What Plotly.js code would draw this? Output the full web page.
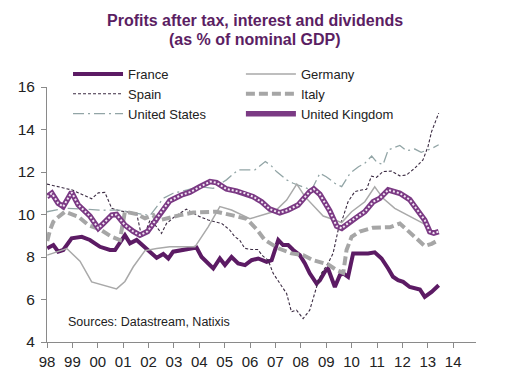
<!DOCTYPE html>
<html>
<head>
<meta charset="utf-8">
<script src="https://cdn.plot.ly/plotly-3.0.1.min.js"></script>
<style>html,body{margin:0;padding:0;background:#fff;}#chart{width:526px;height:390px;}</style>
</head>
<body>
<div id="chart"></div>
<script>
// ---- Data (x in decimal years) ----
const yearTicks = [1998,1999,2000,2001,2002,2003,2004,2005,2006,2007,2008,2009,2010,2011,2012,2013,2014];
const yearLabels = ['98','99','00','01','02','03','04','05','06','07','08','09','10','11','12','13','14'];

const franceX = [1998.01,1998.25,1998.44,1998.64,1998.97,1999.37,1999.69,2000.09,2000.48,2000.68,2001.07,2001.27,2001.53,2001.93,2002.32,2002.58,2002.78,2002.97,2003.24,2003.76,2003.89,2004.09,2004.35,2004.55,2004.81,2005.01,2005.27,2005.53,2005.80,2006.06,2006.32,2006.65,2006.85,2007.11,2007.30,2007.50,2007.70,2007.96,2008.16,2008.35,2008.62,2008.75,2008.94,2009.07,2009.34,2009.54,2009.67,2009.86,2010.06,2010.46,2010.65,2010.91,2011.18,2011.44,2011.63,2011.83,2012.03,2012.29,2012.56,2012.69,2012.88,2013.15,2013.43];
const franceY = [8.41,8.56,8.25,8.33,8.88,8.95,8.80,8.48,8.33,8.33,9.03,8.64,8.80,8.40,7.96,8.14,7.93,8.25,8.30,8.41,8.45,8.00,7.70,7.46,7.93,7.62,8.00,7.70,7.62,7.85,7.93,7.77,7.85,8.80,8.56,8.56,8.33,8.09,7.70,7.23,6.75,6.91,7.30,7.46,6.59,7.15,7.23,7.07,8.17,8.17,8.17,8.22,7.93,7.46,7.07,6.91,6.83,6.59,6.52,6.47,6.12,6.36,6.67];

const germanyX = [1998.01,1998.78,1999.30,1999.76,2000.74,2001.07,2001.40,2001.86,2002.32,2002.84,2003.83,2004.35,2004.81,2005.27,2005.99,2006.39,2006.98,2007.44,2007.84,2008.16,2008.55,2008.88,2009.34,2009.61,2010.00,2010.52,2010.91,2011.24,2011.70,2012.42,2013.08];
const germanyY = [8.09,8.40,7.80,6.83,6.50,6.85,7.54,8.30,8.40,8.48,8.48,9.42,10.37,10.21,9.80,9.93,10.15,10.68,11.43,10.84,10.37,9.93,9.74,9.62,10.13,10.60,11.30,10.76,10.29,9.82,9.42];

const spainX = [1998.00,1999.00,1999.76,2000.02,2000.28,2000.55,2000.87,2001.20,2001.53,2001.73,2001.92,2002.06,2002.32,2002.51,2002.71,2003.03,2003.49,2003.76,2004.02,2004.35,2004.68,2004.88,2005.20,2005.40,2005.59,2005.79,2006.06,2006.30,2006.50,2006.71,2006.91,2007.17,2007.44,2007.63,2007.83,2008.09,2008.35,2008.62,2008.81,2009.07,2009.27,2009.47,2009.67,2009.86,2010.13,2010.39,2010.59,2010.78,2010.98,2011.24,2011.57,2011.90,2012.16,2012.49,2012.81,2013.01,2013.15,2013.28,2013.43];
const spainY = [11.43,11.15,10.74,11.02,11.04,10.29,10.17,10.13,10.06,8.95,9.30,9.74,9.42,9.11,9.58,9.90,10.25,10.06,9.90,9.74,9.66,9.58,9.27,8.95,8.80,8.41,8.35,8.35,8.05,7.85,7.23,6.75,6.28,5.42,5.50,5.10,5.50,6.59,7.23,7.70,8.17,9.27,9.90,10.60,11.08,11.15,11.19,11.80,11.75,12.02,12.04,11.82,11.86,12.18,12.57,13.20,13.90,14.30,14.77];

const italyX = [1998.01,1998.12,1998.25,1998.38,1998.71,1999.23,1999.63,2000.09,2000.55,2000.87,2001.07,2001.53,2001.86,2002.19,2002.32,2002.71,2003.24,2003.76,2004.68,2005.27,2005.86,2006.26,2006.58,2007.11,2007.63,2008.09,2008.48,2009.07,2009.41,2009.67,2009.80,2010.00,2010.32,2010.85,2011.50,2011.90,2012.22,2012.56,2012.88,2013.15,2013.43];
const italyY = [8.75,9.27,9.66,9.82,10.13,9.90,9.50,9.30,8.95,8.80,10.13,10.02,9.82,9.97,9.70,9.82,9.97,10.09,10.13,9.97,9.80,9.30,8.80,8.41,8.17,8.09,7.85,7.65,7.38,7.25,8.33,8.95,9.20,9.38,9.40,9.58,9.23,8.88,8.52,8.62,8.80];

const usX = [1998.00,1998.71,1999.50,2000.20,2000.81,2001.20,2001.86,2002.06,2002.58,2002.97,2003.49,2004.02,2004.55,2005.07,2005.53,2005.99,2006.19,2006.60,2006.83,2007.04,2007.44,2007.70,2008.10,2008.42,2008.75,2009.00,2009.34,2009.61,2009.94,2010.27,2010.52,2010.79,2011.00,2011.24,2011.44,2011.90,2012.16,2012.49,2012.74,2013.15,2013.43];
const usY = [10.13,10.29,10.25,10.20,10.21,10.13,9.97,9.95,10.76,11.00,11.15,11.31,11.23,11.63,12.10,12.10,12.10,12.49,12.30,12.02,11.63,11.47,11.30,11.15,11.94,11.78,11.47,11.31,11.94,12.25,12.41,12.75,12.45,12.35,13.04,13.25,13.00,13.08,12.93,13.10,13.28];

const ukX = [1998.00,1998.19,1998.44,1998.64,1998.97,1999.23,1999.69,2000.02,2000.22,2000.55,2000.74,2001.07,2001.40,2001.66,2001.96,2002.25,2002.58,2002.84,2003.30,2003.63,2004.02,2004.42,2004.68,2005.07,2005.47,2005.80,2006.12,2006.45,2006.78,2007.17,2007.50,2007.89,2008.35,2008.51,2008.75,2009.14,2009.41,2009.61,2009.93,2010.32,2010.52,2010.85,2011.11,2011.44,2011.90,2012.29,2012.49,2012.88,2013.08,2013.24,2013.43];
const ukY = [10.84,11.00,10.53,10.37,11.05,10.45,9.93,9.35,9.58,9.97,10.00,9.50,9.20,9.03,9.20,9.70,10.25,10.65,10.92,11.05,11.31,11.55,11.50,11.20,11.10,11.00,10.84,10.60,10.25,10.08,10.21,10.45,11.08,11.20,10.95,10.17,9.45,9.35,9.66,9.97,10.13,10.60,10.76,11.16,11.00,10.70,10.37,9.74,9.19,9.12,9.19];

const titleLine1 = 'Profits after tax, interest and dividends';
const titleLine2 = '(as % of nominal GDP)';
const sourceNote = 'Sources: Datastream, Natixis';

// ---- Traces ----
const traces = [
  {name:'France', x:franceX, y:franceY, mode:'lines', legend:'legend', line:{color:'#5c1b64', width:4}},
  {name:'Spain', x:spainX, y:spainY, mode:'lines', legend:'legend', line:{color:'#3b2b42', width:1.1, dash:'3px,2px'}},
  {name:'United States', x:usX, y:usY, mode:'lines', legend:'legend', line:{color:'#92a5a6', width:1.3, dash:'11px,4px,2px,4px'}},
  {name:'Germany', x:germanyX, y:germanyY, mode:'lines', legend:'legend2', line:{color:'#a9a9a9', width:1.5}},
  {name:'Italy', x:italyX, y:italyY, mode:'lines', legend:'legend2', line:{color:'#a6a6a6', width:4, dash:'9px,4px'}},
  {name:'United Kingdom', x:ukX, y:ukY, mode:'lines', legend:'legend2', line:{color:'#7b3a84', width:5.5}},
  {name:'United Kingdom', x:ukX, y:ukY, mode:'lines', showlegend:false, hoverinfo:'skip', line:{color:'#f3e6f4', width:2, dash:'2px,2px'}}
];

const font = 'Liberation Sans, Arial, sans-serif';
const axisCommon = {
  range:[4,16], dtick:2, tick0:4, ticks:'outside', ticklen:5, tickcolor:'#8a8a8a',
  showline:true, linecolor:'#8a8a8a', linewidth:1, showgrid:false, zeroline:false,
  tickfont:{family:font, size:15.5, color:'#222'}, ticklabelstandoff:3, fixedrange:true
};
const legendCommon = {orientation:'v', xanchor:'left', y:1.11, yanchor:'top', bgcolor:'rgba(0,0,0,0)',
  font:{family:font, size:13, color:'#222'}, itemwidth:50, tracegroupgap:0, traceorder:'normal'};

const layout = {
  width:526, height:390,
  margin:{l:47, r:50, t:87, b:48},
  paper_bgcolor:'#fff', plot_bgcolor:'#fff',
  font:{family:font, color:'#222'},
  xaxis:{range:[1998,2014.9], tickvals:yearTicks, ticktext:yearLabels, ticks:'outside', ticklen:5, tickcolor:'#8a8a8a',
         showline:true, linecolor:'#8a8a8a', showgrid:false, zeroline:false, ticklabelstandoff:1,
         tickfont:{family:font, size:15, color:'#222'}},
  yaxis: Object.assign({side:'left'}, axisCommon),
  yaxis2: Object.assign({side:'right', overlaying:'y'}, axisCommon),
  showlegend:true,
  legend: Object.assign({x:0.049}, legendCommon),
  legend2: Object.assign({x:0.452}, legendCommon),
  annotations:[
    {text:'<b>'+titleLine1+'</b>', xref:'paper', yref:'paper', x:0.485, y:1.261, xanchor:'center', yanchor:'middle',
     showarrow:false, font:{family:font, size:16, color:'#5b1e63'}},
    {text:'<b>'+titleLine2+'</b>', xref:'paper', yref:'paper', x:0.485, y:1.186, xanchor:'center', yanchor:'middle',
     showarrow:false, font:{family:font, size:16, color:'#5b1e63'}},
    {text:sourceNote, xref:'paper', yref:'paper', x:0.045, y:0.077, xanchor:'left', yanchor:'middle',
     showarrow:false, font:{family:font, size:12.5, color:'#222'}}
  ]
};

Plotly.newPlot('chart', traces, layout, {displayModeBar:false, staticPlot:true});
</script>
</body>
</html>
